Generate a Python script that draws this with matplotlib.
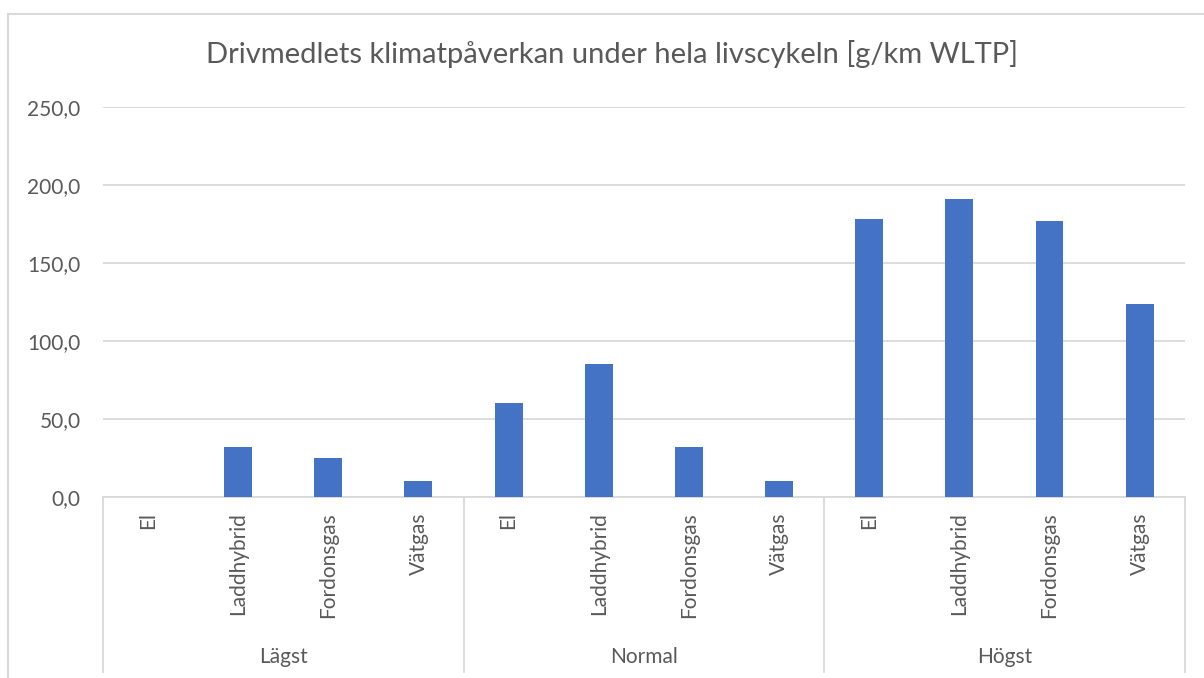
import matplotlib

matplotlib.use("Agg")
import matplotlib.pyplot as plt
import numpy as np
from matplotlib.patches import Rectangle


TITLE = "Drivmedlets klimatpåverkan under hela livscykeln [g/km WLTP]"
GROUPS = ["Lägst", "Normal", "Högst"]
FUELS = ["El", "Laddhybrid", "Fordonsgas", "Vätgas"]
VALUES_LAGST = [0.0, 31.8, 25.0, 10.4]
VALUES_NORMAL = [60.4, 85.4, 32.0, 10.4]
VALUES_HOGST = [178.2, 191.0, 176.7, 123.9]
Y_TICKS = [0, 50, 100, 150, 200, 250]

BAR_COLOR = "#4472C4"
TEXT_COLOR = "#595959"
GRID_COLOR = "#D9D9D9"

plt.rcParams["font.family"] = ["Lato", "DejaVu Sans"]

fig = plt.figure(figsize=(12.04, 6.78), dpi=100)
ax = fig.add_axes([0.0855, 0.267, 0.8985, 0.575])

values = np.array(VALUES_LAGST + VALUES_NORMAL + VALUES_HOGST)
n_fuels = len(FUELS)
x = np.arange(len(values))
ax.bar(x, values, width=0.31, color=BAR_COLOR, zorder=3)

ax.set_xlim(-0.5, len(values) - 0.5)
ax.set_ylim(0, 250)
ax.set_yticks(Y_TICKS)
ax.set_yticklabels([f"{v:.1f}".replace(".", ",") for v in Y_TICKS],
                   fontsize=15, color=TEXT_COLOR)
ax.tick_params(axis="y", length=0, pad=16)
ax.grid(axis="y", color=GRID_COLOR, linewidth=1.3, zorder=0)

ax.set_xticks(x)
ax.set_xticklabels(FUELS * len(GROUPS), rotation=90, fontsize=15,
                   color=TEXT_COLOR, va="top")
ax.tick_params(axis="x", length=0, pad=11)

for side in ["top", "right", "left"]:
    ax.spines[side].set_visible(False)
ax.spines["bottom"].set_color(GRID_COLOR)
ax.spines["bottom"].set_linewidth(1.3)

# group separators and labels under the axis
trans = ax.get_xaxis_transform()
for i in range(len(GROUPS) + 1):
    sep = i * n_fuels - 0.5
    ax.plot([sep, sep], [0, -0.449], transform=trans, color=GRID_COLOR,
            linewidth=1.3, clip_on=False)
for i, group in enumerate(GROUPS):
    center = i * n_fuels + (n_fuels - 1) / 2
    ax.text(center, -0.41, group, transform=trans, ha="center", va="center",
            fontsize=15, color=TEXT_COLOR)

fig.text(0.508, 0.92, TITLE, ha="center", va="center", fontsize=21,
         color=TEXT_COLOR)

# outer chart frame (runs off the right and bottom edges)
fig.patches.append(Rectangle((0.0066, -0.05), 1.1, 1.029, transform=fig.transFigure,
                             fill=False, edgecolor=GRID_COLOR, linewidth=1.5))

fig.savefig("out.png", dpi=100)
